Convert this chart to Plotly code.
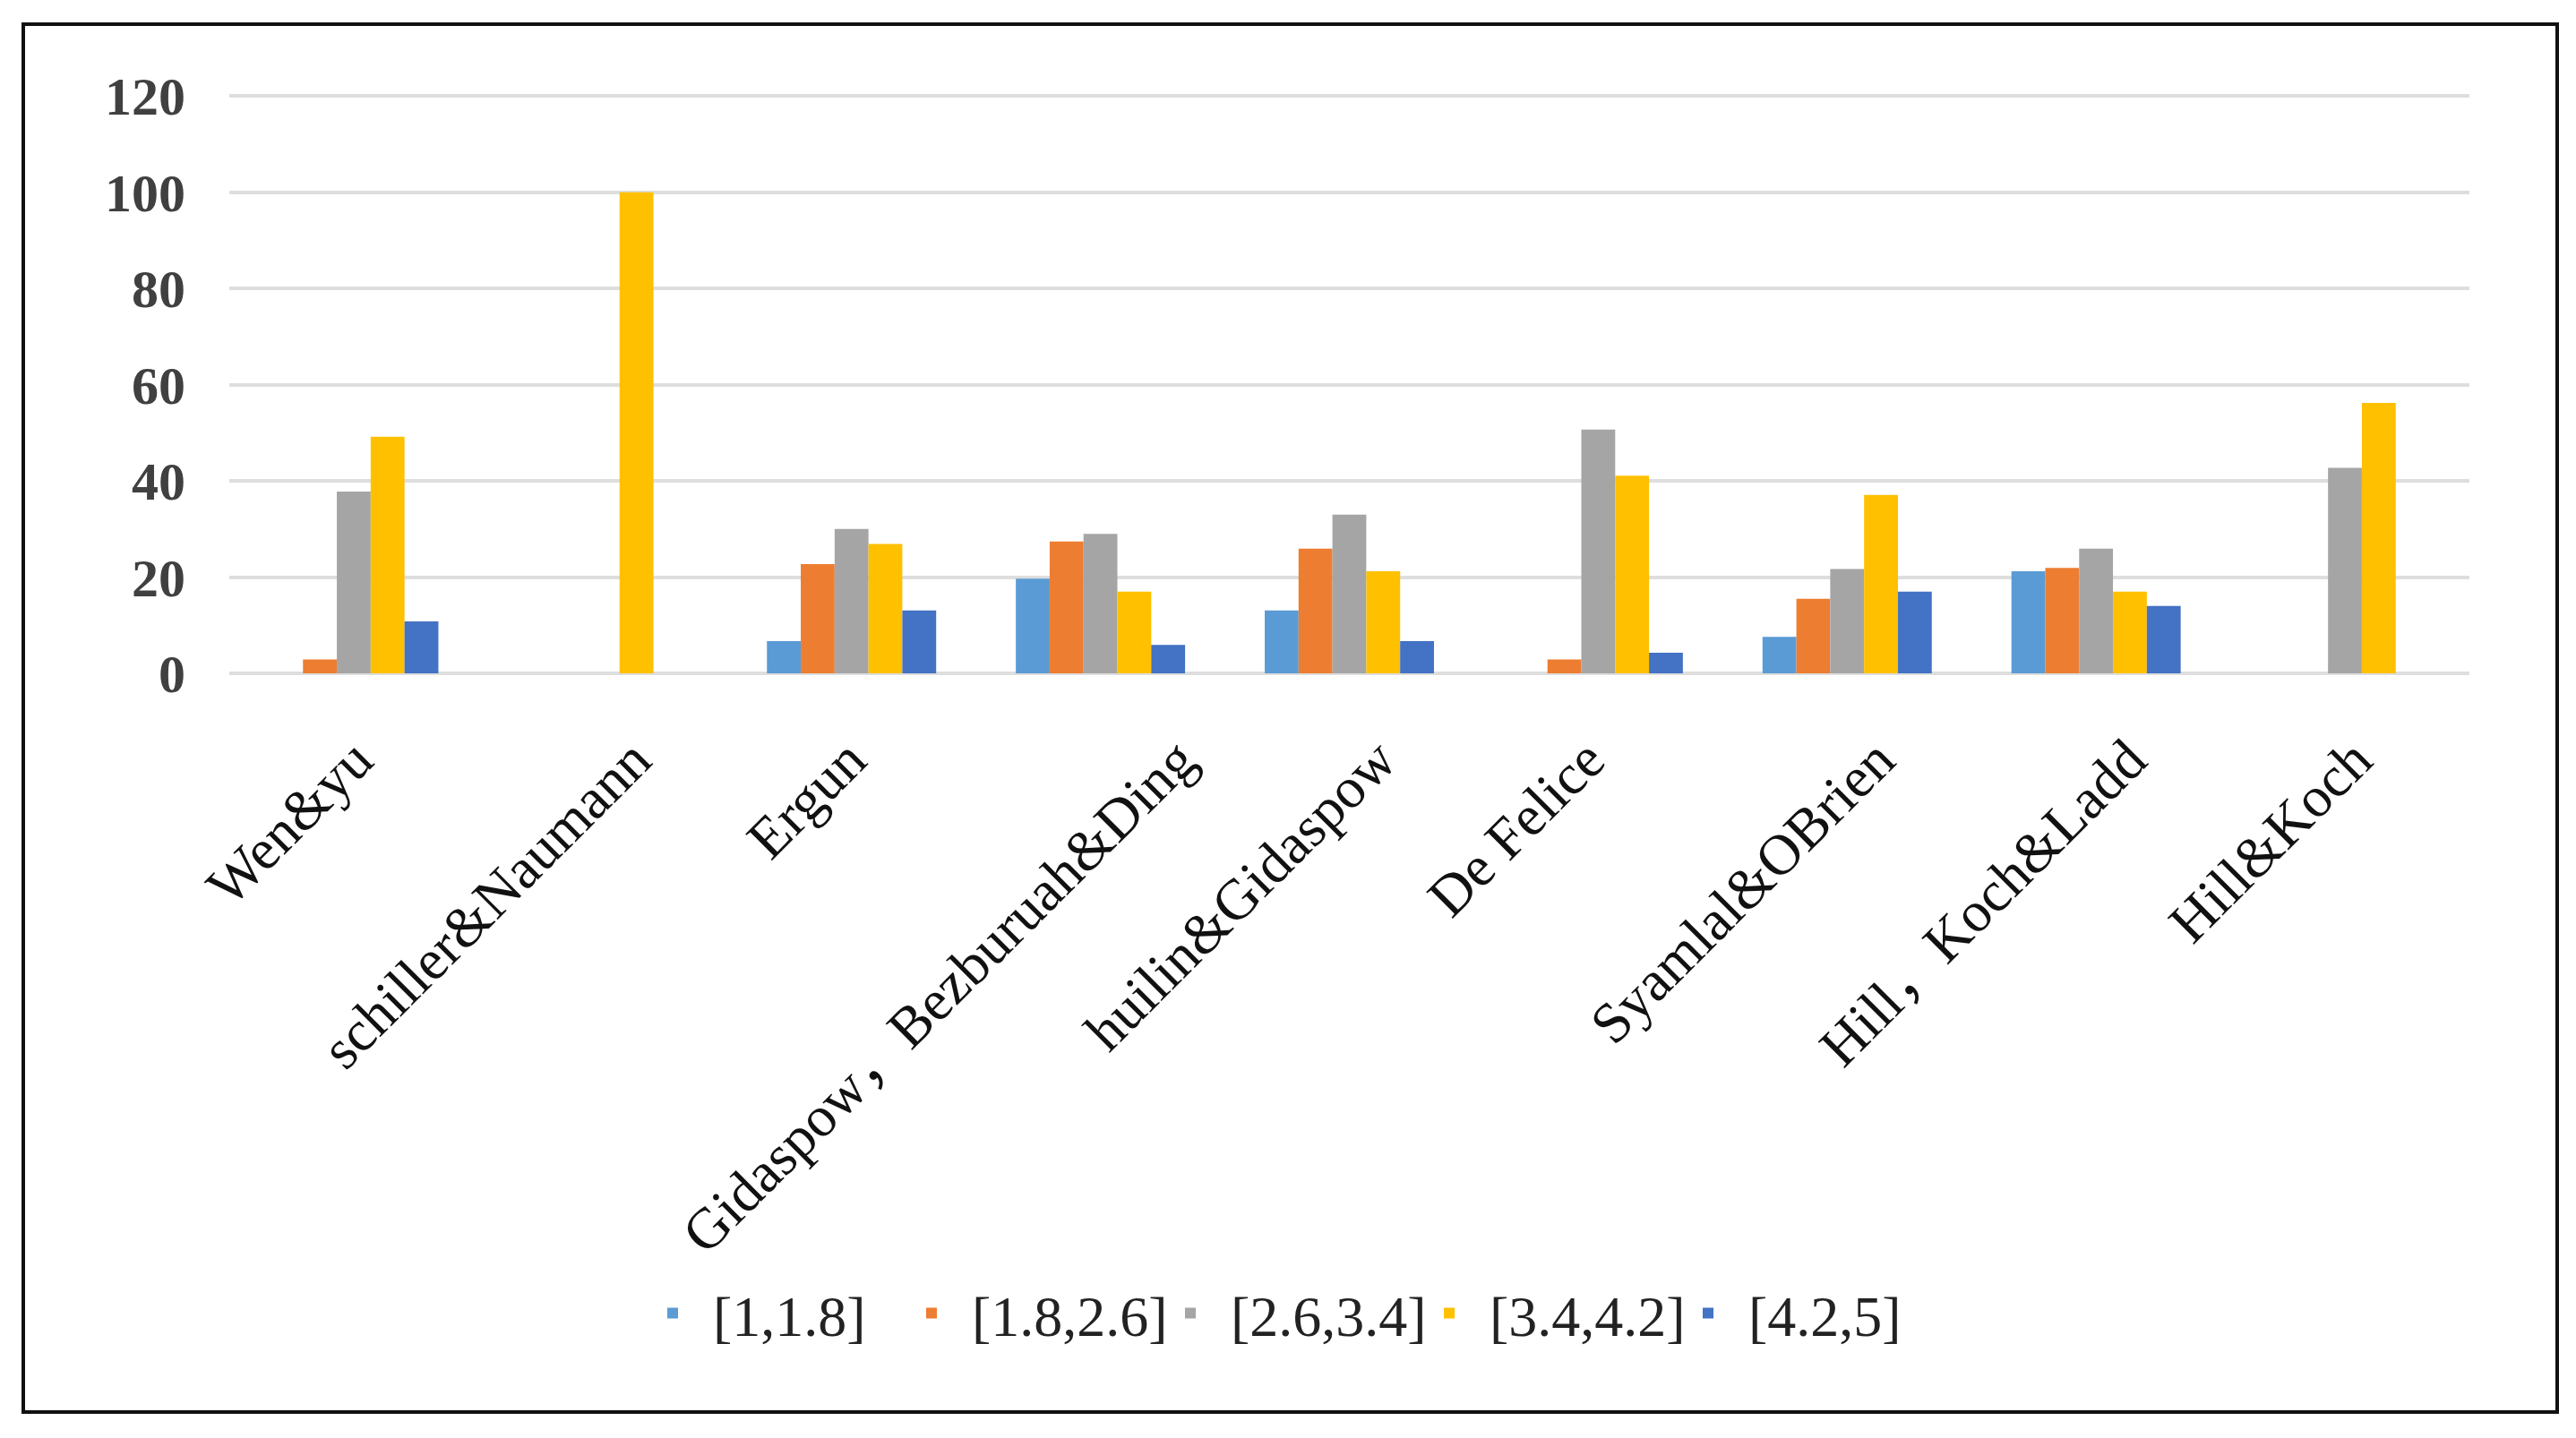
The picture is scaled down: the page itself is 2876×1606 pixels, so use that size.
import plotly.graph_objects as go

categories = ["Wen&yu", "schiller&Naumann", "Ergun", "Gidaspow，Bezburuah&Ding",
              "huilin&Gidaspow", "De Felice", "Syamlal&OBrien", "Hill，Koch&Ladd", "Hill&Koch"]
series_names = ["[1,1.8]", "[1.8,2.6]", "[2.6,3.4]", "[3.4,4.2]", "[4.2,5]"]
s_1_18 = [0, 0, 6.7, 19.7, 13.1, 0, 7.6, 21.2, 0]
s_18_26 = [2.9, 0, 22.7, 27.4, 25.9, 2.9, 15.5, 21.9, 0]
s_26_34 = [37.8, 0, 30.0, 29.0, 33.0, 50.7, 21.7, 25.9, 42.7]
s_34_42 = [49.2, 100.0, 26.9, 17.0, 21.2, 41.1, 37.1, 17.0, 56.2]
s_42_5 = [10.8, 0, 13.1, 5.9, 6.7, 4.3, 17.0, 14.0, 0]
y_ticks = [0, 20, 40, 60, 80, 100, 120]

colors = ["#5B9BD5", "#ED7D31", "#A5A5A5", "#FFC000", "#4472C4"]
values = [s_1_18, s_18_26, s_26_34, s_34_42, s_42_5]

# layout (pixel geometry; page body adds an 8px offset)
W, H = 2876, 1606
L, R, T, B = 248, 127, 94, 862
pw, ph = W - L - R, H - T - B
# small per-label horizontal nudges (category units) to mimic the original label placement
label_nudge = [0.007, 0.125, -0.011, 0.315, 0.119, -0.043, 0.122, 0.133, 0.039]

fig = go.Figure()
for name, vals, c in zip(series_names, values, colors):
    fig.add_trace(go.Bar(x=categories, y=vals, name=name,
                         marker=dict(color=c, line=dict(width=0))))
# empty carrier so the label axis is drawn
fig.add_trace(go.Scatter(x=[], y=[], xaxis="x2", showlegend=False, hoverinfo="skip"))

def px_x(p):
    return (p - L) / pw

def px_y(p):
    return (H - B - p) / ph

serif = "Liberation Serif, Times New Roman, Noto Sans CJK SC, serif"
n = len(categories)

fig.update_layout(
    width=W, height=H,
    margin=dict(l=L, r=R, t=T, b=B),
    paper_bgcolor="white", plot_bgcolor="white",
    barmode="group", bargap=0.32, bargroupgap=0,
    font=dict(family=serif, color="#000000"),
    showlegend=True,
    legend=dict(orientation="h", x=px_x(698), xanchor="left", y=px_y(1459), yanchor="middle",
                font=dict(size=64, family=serif, color="#222222"),
                itemwidth=80, entrywidth=194, entrywidthmode="pixels",
                traceorder="normal", bgcolor="rgba(0,0,0,0)"),
    xaxis=dict(range=[-0.5, n - 0.5], showticklabels=False,
               showgrid=False, showline=False, ticks=""),
    xaxis2=dict(overlaying="x", anchor="y", side="bottom", range=[-0.5, n - 0.5],
                tickvals=[i + d for i, d in enumerate(label_nudge)], ticktext=categories,
                tickangle=-45, tickfont=dict(size=64, family=serif, color="#111111"),
                showgrid=False, showline=False, zeroline=False, ticks="", ticklabelstandoff=45),
    yaxis=dict(range=[0, 121], tickvals=y_ticks, ticktext=[str(v) for v in y_ticks],
               tickfont=dict(size=60, family="Liberation Serif, serif", color="#404040", weight="bold"),
               showgrid=True, gridcolor="#DEDEDE", gridwidth=4,
               zeroline=True, zerolinecolor="#DEDEDE", zerolinewidth=4,
               showline=False, ticks="", ticklabelstandoff=48),
    shapes=[dict(type="rect", xref="paper", yref="paper",
                 x0=px_x(18), x1=px_x(2847), y0=px_y(1569), y1=px_y(19),
                 line=dict(color="#111111", width=4), fillcolor="rgba(0,0,0,0)", layer="below")],
)

fig.write_html("out.html")
